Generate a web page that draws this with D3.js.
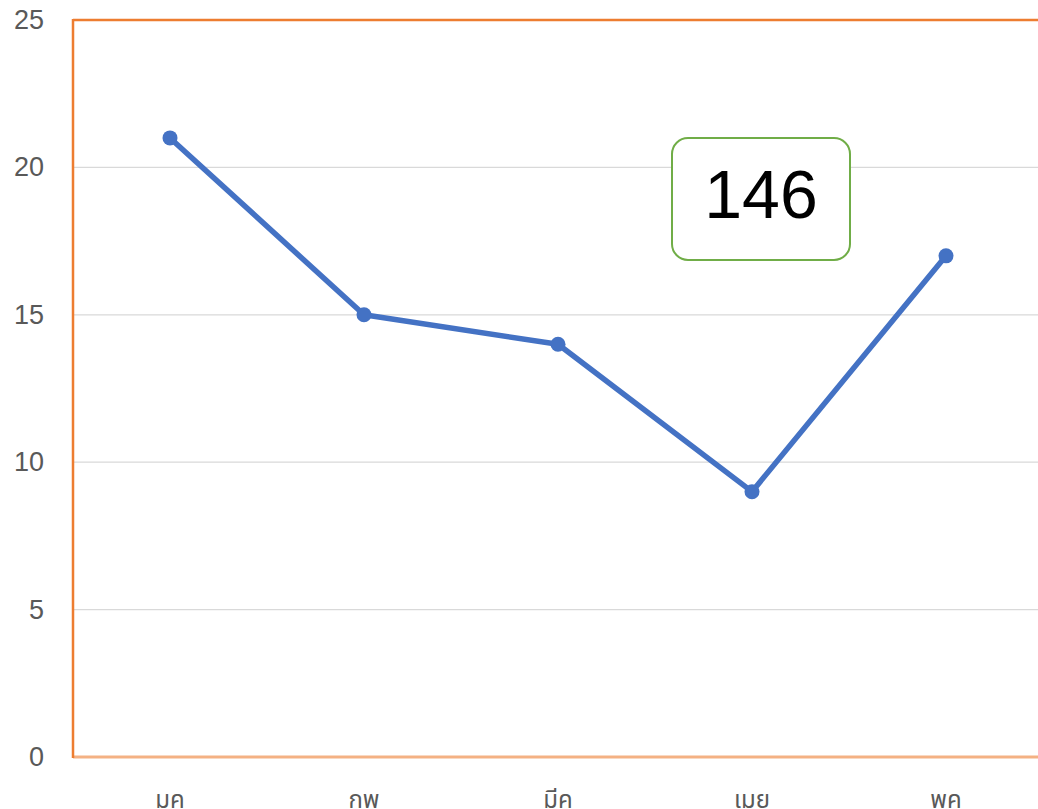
<!DOCTYPE html>
<html>
<head>
<meta charset="utf-8">
<script src="https://cdn.jsdelivr.net/npm/d3@7"></script>
<style>
  body { margin: 0; background: #fff; overflow: hidden; }
  svg { display: block; }
</style>
</head>
<body>
<svg id="chart"></svg>
<script>
// data
var months = ['มค', 'กพ', 'มีค', 'เมย', 'พค'];
var values = [21, 15, 14, 9, 17];
var y_ticks = [0, 5, 10, 15, 20, 25];
var box_label = '146';

// board size
var svg_w = 1038, svg_h = 809;
var pad_left = 73, pad_top = 20;
var plot_right = 1043, plot_bottom = 757;

var svg = d3.select('#chart').attr('width', svg_w).attr('height', svg_h);

var x_scale = d3.scaleBand().domain(months).range([pad_left, plot_right]);
var y_scale = d3.scaleLinear().domain([0, 25]).range([plot_bottom, pad_top]);

// gridlines
svg.append('g').selectAll('line').data(y_ticks.filter(function(d){ return d > 0 && d < 25; }))
  .enter().append('line')
  .attr('x1', pad_left).attr('x2', plot_right)
  .attr('y1', function(d){ return y_scale(d); })
  .attr('y2', function(d){ return y_scale(d); })
  .attr('stroke', '#d9d9d9').attr('stroke-width', 1.3);

// y tick labels
svg.append('g').selectAll('text').data(y_ticks).enter().append('text')
  .attr('x', 44).attr('y', function(d){ return y_scale(d) + 9; })
  .attr('text-anchor', 'end')
  .attr('font-family', 'Liberation Sans, Arial, sans-serif')
  .attr('font-size', 27).attr('fill', '#595959')
  .text(function(d){ return d; });

// x tick labels (cut by the bottom edge, as in the original)
svg.append('g').selectAll('text').data(months).enter().append('text')
  .attr('x', function(d){ return x_scale(d) + x_scale.bandwidth() / 2; })
  .attr('y', 808)
  .attr('text-anchor', 'middle')
  .attr('font-family', 'Noto Sans Thai, Noto Sans, DejaVu Sans, sans-serif')
  .attr('font-size', 24).attr('fill', '#595959')
  .text(function(d){ return d; });

// frame (orange)
svg.append('line').attr('x1', pad_left).attr('x2', plot_right)
  .attr('y1', plot_bottom).attr('y2', plot_bottom)
  .attr('stroke', '#f4b183').attr('stroke-width', 3);
svg.append('line').attr('x1', pad_left).attr('x2', plot_right)
  .attr('y1', pad_top).attr('y2', pad_top)
  .attr('stroke', '#ed7d31').attr('stroke-width', 2.5);
svg.append('line').attr('x1', pad_left).attr('x2', pad_left)
  .attr('y1', pad_top - 1).attr('y2', plot_bottom + 1)
  .attr('stroke', '#ed7d31').attr('stroke-width', 2.5);

// series line
var line = d3.line()
  .x(function(d, i){ return x_scale(months[i]) + x_scale.bandwidth() / 2; })
  .y(function(d){ return y_scale(d); });
svg.append('path').datum(values)
  .attr('d', line).attr('fill', 'none')
  .attr('stroke', '#4472c4').attr('stroke-width', 5.5)
  .attr('stroke-linejoin', 'round').attr('stroke-linecap', 'round');

svg.append('g').selectAll('circle').data(values).enter().append('circle')
  .attr('cx', function(d, i){ return x_scale(months[i]) + x_scale.bandwidth() / 2; })
  .attr('cy', function(d){ return y_scale(d); })
  .attr('r', 7.5).attr('fill', '#4472c4');

// text box
var box_g = svg.append('g').attr('transform', 'translate(672,138)');
box_g.append('rect').attr('width', 178).attr('height', 122)
  .attr('rx', 16).attr('ry', 16)
  .attr('fill', '#fff').attr('stroke', '#70ad47').attr('stroke-width', 2);
box_g.append('text').attr('x', 89).attr('y', 80)
  .attr('text-anchor', 'middle')
  .attr('font-family', 'Liberation Sans, Arial, sans-serif')
  .attr('font-size', 68).attr('fill', '#000')
  .text(box_label);
</script>
</body>
</html>
